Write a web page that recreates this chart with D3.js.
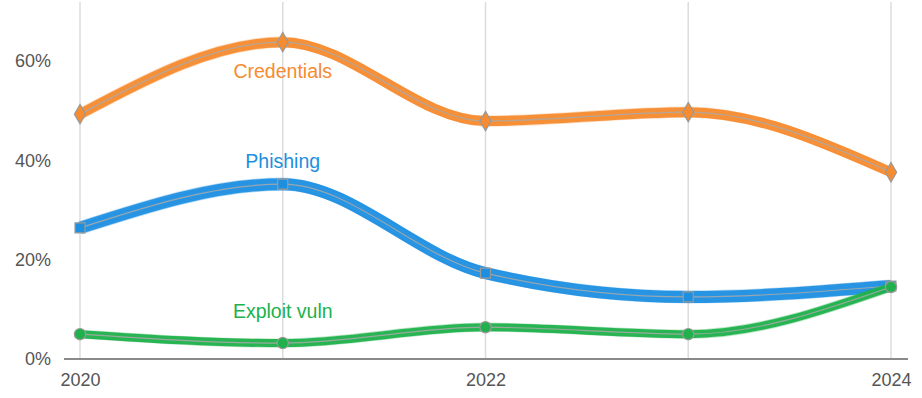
<!DOCTYPE html>
<html>
<head>
<meta charset="utf-8">
<script src="https://cdn.jsdelivr.net/npm/d3@7"></script>
<style>
  body { margin: 0; background: #fff; }
  text { font-family: "Liberation Sans", Arial, sans-serif; }
</style>
</head>
<body>
<script>
// data
const years = [2020, 2021, 2022, 2023, 2024];
const credentials = [49.3, 63.8, 47.9, 49.7, 37.6];
const phishing = [26.4, 35.2, 17.3, 12.5, 14.7];
const exploitVuln = [5.0, 3.2, 6.4, 5.0, 14.5];
const yTicks = [0, 20, 40, 60];
const xTicks = [2020, 2022, 2024];

const series = [
    { name: 'Credentials', values: credentials, color: '#f68b2f', marker: d3.symbolDiamond, width: 10, spread: 5, labelYear: 2021, labelVal: 56.6 },
    { name: 'Phishing', values: phishing, color: '#1d8fe1', marker: d3.symbolSquare, width: 12, spread: 6, labelYear: 2021, labelVal: 38.5 },
    { name: 'Exploit vuln', values: exploitVuln, color: '#20b14c', marker: d3.symbolCircle, width: 8, spread: 4, labelYear: 2021, labelVal: 8.2 }
];

const width = 922, height = 398;

const svg = d3.select('body')
    .append('svg')
        .attr('width', width)
        .attr('height', height);

// scales
const x = d3.scaleLinear().domain([2020, 2024]).range([80, 891]);
const y = d3.scaleLinear().domain([0, 60]).range([359, 61]);

// vertical gridlines
svg.append('g')
    .selectAll('line')
    .data(years)
    .enter()
    .append('line')
        .attr('x1', d => x(d))
        .attr('x2', d => x(d))
        .attr('y1', 2)
        .attr('y2', y(0))
        .attr('stroke', '#dcdcdc')
        .attr('stroke-width', 1.5);

// x-axis
const axisBottom = d3.axisBottom(x)
    .tickValues(xTicks)
    .tickFormat(d3.format('d'))
    .tickSize(0)
    .tickPadding(14);
const gx = svg.append('g')
    .attr('transform', 'translate(0, ' + y(0) + ')')
    .call(axisBottom);
gx.select('.domain').remove();
gx.append('line')
    .attr('x1', 64).attr('x2', 908)
    .attr('stroke', '#8a8a8a')
    .attr('stroke-width', 2);
gx.selectAll('text')
    .attr('font-size', '18px')
    .attr('fill', '#555');

// y-axis labels
const axisLeft = d3.axisLeft(y)
    .tickValues(yTicks)
    .tickFormat(d => d + '%')
    .tickSize(0)
    .tickPadding(0);
const gy = svg.append('g')
    .attr('transform', 'translate(51, 0)')
    .call(axisLeft);
gy.select('.domain').remove();
gy.selectAll('text')
    .attr('font-size', '18px')
    .attr('fill', '#555');

// lines
const line = d3.line()
    .x((d, i) => x(years[i]))
    .y(d => y(d))
    .curve(d3.curveMonotoneX);

const strandSteps = [-1, -0.66, -0.33, 0.33, 0.66, 1];

series.forEach(s => {
    const g = svg.append('g');

    // sketchy strands
    strandSteps.forEach((t, k) => {
        g.append('path')
            .attr('d', line(s.values))
            .attr('transform', 'translate(' + (k % 2 ? 1.5 : -1.5) + ', ' + (t * s.spread) + ')')
            .attr('fill', 'none')
            .attr('stroke', s.color)
            .attr('stroke-width', 1.2)
            .attr('stroke-opacity', 0.3);
    });

    g.append('path')
        .attr('d', line(s.values))
        .attr('fill', 'none')
        .attr('stroke', s.color)
        .attr('stroke-width', s.width)
        .attr('stroke-opacity', 0.95);

    g.append('path')
        .attr('d', line(s.values))
        .attr('fill', 'none')
        .attr('stroke', '#a9a9a9')
        .attr('stroke-opacity', 0.85)
        .attr('stroke-width', 1.2);

    g.selectAll('path.marker')
        .data(s.values)
        .enter()
        .append('path')
            .attr('class', 'marker')
            .attr('d', d3.symbol().type(s.marker).size(s.marker === d3.symbolDiamond ? 110 : 100))
            .attr('transform', (d, i) => 'translate(' + x(years[i]) + ', ' + y(d) + ')')
            .attr('fill', s.color)
            .attr('stroke', '#9a9a9a')
            .attr('stroke-width', 1.2);

    svg.append('text')
        .attr('x', x(s.labelYear))
        .attr('y', y(s.labelVal))
        .attr('text-anchor', 'middle')
        .attr('font-size', '19.5px')
        .attr('fill', s.color)
        .text(s.name);
});
</script>
</body>
</html>
